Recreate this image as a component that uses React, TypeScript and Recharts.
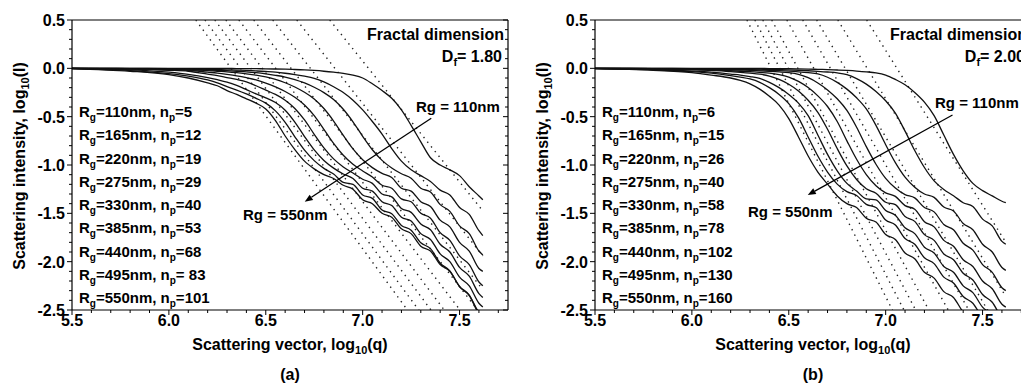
import React from "react";
import { ComposedChart, Line, XAxis, YAxis, ReferenceLine } from "recharts";

// log10(q) sample points shared by every curve
const qGrid = [5.5, 5.8, 6.0, 6.1, 6.2, 6.25, 6.3, 6.35, 6.4, 6.45, 6.5, 6.55, 6.6, 6.65, 6.7, 6.75, 6.8, 6.85, 6.9, 6.95, 7.0, 7.05, 7.1, 7.15, 7.2, 7.25, 7.3, 7.35, 7.4, 7.45, 7.5, 7.55, 7.6, 7.62];

// ---- (a) Df = 1.80 : log10(I) per Rg ----
const aRg110 = [0, 0, 0, 0, 0, 0, -0.001, -0.002, -0.003, -0.004, -0.005, -0.007, -0.009, -0.012, -0.016, -0.022, -0.03, -0.04, -0.052, -0.07, -0.1, -0.16, -0.23, -0.31, -0.43, -0.59, -0.76, -0.925, -1.0, -1.05, -1.11, -1.225, -1.32, -1.36];
const aRg165 = [0, -0.001, -0.003, -0.005, -0.01, -0.012, -0.015, -0.018, -0.022, -0.027, -0.033, -0.04, -0.051, -0.065, -0.081, -0.103, -0.14, -0.19, -0.25, -0.33, -0.43, -0.55, -0.68, -0.83, -0.96, -1.05, -1.11, -1.17, -1.26, -1.31, -1.44, -1.51, -1.68, -1.73];
const aRg220 = [0, -0.002, -0.005, -0.008, -0.016, -0.02, -0.024, -0.03, -0.036, -0.045, -0.057, -0.072, -0.09, -0.116, -0.151, -0.196, -0.251, -0.322, -0.423, -0.553, -0.703, -0.842, -0.952, -1.031, -1.091, -1.136, -1.24, -1.28, -1.41, -1.48, -1.63, -1.71, -1.89, -1.93];
const aRg275 = [0, -0.003, -0.01, -0.016, -0.024, -0.03, -0.036, -0.045, -0.057, -0.071, -0.089, -0.114, -0.149, -0.193, -0.248, -0.317, -0.416, -0.545, -0.694, -0.834, -0.946, -1.027, -1.087, -1.13, -1.24, -1.27, -1.38, -1.43, -1.57, -1.64, -1.8, -1.89, -2.07, -2.1];
const aRg330 = [0, -0.006, -0.014, -0.02, -0.04, -0.05, -0.063, -0.078, -0.097, -0.12, -0.152, -0.192, -0.24, -0.3, -0.38, -0.49, -0.631, -0.776, -0.899, -0.993, -1.062, -1.125, -1.21, -1.24, -1.35, -1.38, -1.5, -1.55, -1.7, -1.78, -1.94, -2.03, -2.21, -2.25];
const aRg385 = [0, -0.008, -0.02, -0.03, -0.06, -0.075, -0.095, -0.115, -0.14, -0.18, -0.225, -0.27, -0.33, -0.415, -0.534, -0.682, -0.823, -0.937, -1.02, -1.083, -1.147, -1.19, -1.3, -1.33, -1.45, -1.49, -1.61, -1.67, -1.82, -1.9, -2.06, -2.15, -2.33, -2.37];
const aRg440 = [0, -0.015, -0.04, -0.062, -0.096, -0.118, -0.143, -0.177, -0.22, -0.265, -0.305, -0.354, -0.433, -0.556, -0.706, -0.844, -0.953, -1.032, -1.093, -1.14, -1.24, -1.27, -1.38, -1.42, -1.54, -1.58, -1.71, -1.77, -1.92, -2.0, -2.16, -2.25, -2.43, -2.47];
const aRg495 = [-0.004, -0.023, -0.055, -0.08, -0.12, -0.15, -0.19, -0.225, -0.265, -0.31, -0.36, -0.44, -0.559, -0.708, -0.847, -0.955, -1.035, -1.094, -1.18, -1.2, -1.31, -1.345, -1.465, -1.505, -1.625, -1.675, -1.805, -1.865, -2.015, -2.095, -2.255, -2.345, -2.525, -2.56];
const aRg550 = [-0.005, -0.03, -0.065, -0.1, -0.15, -0.18, -0.23, -0.27, -0.315, -0.36, -0.42, -0.54, -0.7, -0.84, -0.96, -1.04, -1.1, -1.14, -1.21, -1.25, -1.36, -1.4, -1.5, -1.54, -1.66, -1.71, -1.84, -1.89, -2.03, -2.1, -2.26, -2.35, -2.54, -2.58];
// dotted asymptotes: log10(q) where they leave the top (0.5), and log10(I) at the q end
const aGuideStart = [6.139, 6.186, 6.237, 6.294, 6.361, 6.438, 6.536, 6.66, 6.83];
const aGuideEnd = [-3.57, -3.4, -3.22, -3.03, -2.81, -2.57, -2.29, -1.94, -1.475];
const aNp = ["5", "12", "19", "29", "40", "53", "68", " 83", "101"];

// ---- (b) Df = 2.00 ----
const bRg110 = [0, 0, 0, 0, 0, 0, 0, -0.001, -0.002, -0.003, -0.004, -0.006, -0.008, -0.01, -0.013, -0.017, -0.022, -0.028, -0.036, -0.047, -0.07, -0.115, -0.17, -0.25, -0.35, -0.49, -0.69, -0.89, -1.06, -1.19, -1.265, -1.32, -1.375, -1.39];
const bRg165 = [0, -0.001, -0.002, -0.004, -0.006, -0.007, -0.008, -0.009, -0.011, -0.013, -0.016, -0.02, -0.025, -0.031, -0.038, -0.047, -0.065, -0.106, -0.163, -0.239, -0.335, -0.463, -0.65, -0.85, -1.026, -1.164, -1.254, -1.318, -1.39, -1.43, -1.56, -1.63, -1.79, -1.82];
const bRg220 = [0, -0.002, -0.005, -0.008, -0.01, -0.012, -0.014, -0.017, -0.02, -0.024, -0.029, -0.036, -0.045, -0.058, -0.092, -0.145, -0.215, -0.305, -0.42, -0.59, -0.79, -0.975, -1.125, -1.23, -1.3, -1.335, -1.435, -1.475, -1.605, -1.67, -1.82, -1.9, -2.06, -2.09];
const bRg275 = [0, -0.003, -0.007, -0.01, -0.015, -0.018, -0.021, -0.026, -0.031, -0.037, -0.045, -0.062, -0.097, -0.151, -0.223, -0.315, -0.436, -0.61, -0.81, -0.992, -1.138, -1.238, -1.306, -1.34, -1.44, -1.485, -1.615, -1.67, -1.81, -1.88, -2.03, -2.11, -2.27, -2.3];
const bRg330 = [0, -0.004, -0.01, -0.015, -0.025, -0.03, -0.035, -0.042, -0.05, -0.065, -0.09, -0.135, -0.199, -0.285, -0.395, -0.55, -0.75, -0.941, -1.099, -1.214, -1.288, -1.325, -1.42, -1.457, -1.587, -1.64, -1.78, -1.84, -1.98, -2.05, -2.2, -2.28, -2.44, -2.47];
const bRg385 = [0, -0.006, -0.015, -0.022, -0.035, -0.042, -0.05, -0.06, -0.08, -0.115, -0.165, -0.235, -0.33, -0.455, -0.63, -0.83, -1.01, -1.15, -1.246, -1.292, -1.385, -1.41, -1.533, -1.583, -1.72, -1.78, -1.92, -1.98, -2.12, -2.19, -2.34, -2.42, -2.58, -2.61];
const bRg440 = [-0.002, -0.012, -0.028, -0.04, -0.06, -0.07, -0.085, -0.105, -0.145, -0.2, -0.27, -0.36, -0.49, -0.69, -0.89, -1.06, -1.19, -1.27, -1.35, -1.36, -1.47, -1.52, -1.65, -1.71, -1.85, -1.91, -2.05, -2.11, -2.25, -2.32, -2.47, -2.55, -2.71, -2.74];
const bRg495 = [-0.003, -0.016, -0.035, -0.05, -0.075, -0.09, -0.11, -0.145, -0.2, -0.27, -0.365, -0.51, -0.71, -0.907, -1.073, -1.198, -1.276, -1.315, -1.407, -1.439, -1.569, -1.62, -1.76, -1.82, -1.96, -2.02, -2.16, -2.22, -2.36, -2.43, -2.58, -2.66, -2.82, -2.85];
const bRg550 = [-0.004, -0.02, -0.045, -0.07, -0.1, -0.125, -0.16, -0.215, -0.29, -0.38, -0.52, -0.71, -0.907, -1.073, -1.198, -1.32, -1.4, -1.44, -1.55, -1.59, -1.72, -1.77, -1.91, -1.97, -2.11, -2.17, -2.31, -2.37, -2.52, -2.59, -2.74, -2.81, -2.96, -2.98];
const bGuideStart = [6.284, 6.325, 6.366, 6.412, 6.49, 6.572, 6.644, 6.753, 6.902];
const bGuideEnd = [-4.84, -4.55, -4.27, -3.97, -3.57, -3.17, -2.82, -2.36, -1.8];
const bNp = ["6", "15", "26", "40", "58", "78", "102", "130", "160"];

const rgList = ["110", "165", "220", "275", "330", "385", "440", "495", "550"];
const guideEndQ = 7.62;
const xTicks = [5.5, 5.6, 5.7, 5.8, 5.9, 6.0, 6.1, 6.2, 6.3, 6.4, 6.5, 6.6, 6.7, 6.8, 6.9, 7.0, 7.1, 7.2, 7.3, 7.4, 7.5, 7.6, 7.7];
const yTicks = [0.5, 0.4, 0.3, 0.2, 0.1, 0, -0.1, -0.2, -0.3, -0.4, -0.5, -0.6, -0.7, -0.8, -0.9, -1.0, -1.1, -1.2, -1.3, -1.4, -1.5, -1.6, -1.7, -1.8, -1.9, -2.0, -2.1, -2.2, -2.3, -2.4, -2.5];

const FONT = "'Liberation Sans', Arial, Helvetica, sans-serif";
const W = 520;
const H = 387;

const isMajor = (v: number) => Math.abs(v * 2 - Math.round(v * 2)) < 1e-6;

function BottomTick({ x, y, payload }: any) {
  const major = isMajor(payload.value);
  return (
    <g>
      <line x1={x} y1={y} x2={x} y2={y + (major ? 5 : 3)} stroke="#000" strokeWidth={1} />
      {major && (
        <text x={x} y={y + 15.5} textAnchor="middle" fontFamily={FONT} fontWeight={700} fontSize={16} fill="#000">
          {payload.value.toFixed(1)}
        </text>
      )}
    </g>
  );
}

function LeftTick({ x, y, payload }: any) {
  const major = isMajor(payload.value);
  return (
    <g>
      <line x1={x} y1={y} x2={x - (major ? 5 : 3)} y2={y} stroke="#000" strokeWidth={1} />
      {major && (
        <text x={x - 7} y={y + 6} textAnchor="end" fontFamily={FONT} fontWeight={700} fontSize={16} fill="#000">
          {payload.value.toFixed(1)}
        </text>
      )}
    </g>
  );
}

function RightTick({ x, y, payload }: any) {
  const major = isMajor(payload.value);
  return <line x1={x} y1={y} x2={x - (major ? 5 : 3)} y2={y} stroke="#000" strokeWidth={1} />;
}

function Arrow(p: any) {
  const { x1, y1, x2, y2 } = p;
  const a = Math.atan2(y2 - y1, x2 - x1);
  const L = 8;
  const hw = 3.2;
  const bx = x2 - L * Math.cos(a);
  const by = y2 - L * Math.sin(a);
  const nx = -Math.sin(a) * hw;
  const ny = Math.cos(a) * hw;
  return (
    <g>
      <line x1={x1} y1={y1} x2={bx} y2={by} stroke="#000" strokeWidth={1.3} />
      <polygon points={`${x2},${y2} ${bx + nx},${by + ny} ${bx - nx},${by - ny}`} fill="#000" />
    </g>
  );
}

interface PanelProps {
  series: number[][];
  guideStart: number[];
  guideEnd: number[];
  np: string[];
  df: string;
  tag: string;
  arrow: { x: number; y: number }[];
  hiLabel: { x: number; y: number };
  loLabel: { x: number; y: number };
}

function Panel({ series, guideStart, guideEnd, np, df, tag, arrow, hiLabel, loLabel }: PanelProps) {
  const rows = qGrid.map((q, i) => {
    const r: Record<string, number> = { q };
    series.forEach((s, k) => (r["s" + k] = s[i]));
    return r;
  });
  const txt = { fontFamily: FONT, fontWeight: 700, fill: "#000" } as const;

  return (
    <div style={{ position: "relative", width: W, height: H }}>
      <ComposedChart width={W} height={H} data={rows} margin={{ top: 20, right: 0, bottom: 0, left: 0 }}>
        <XAxis
          dataKey="q"
          type="number"
          domain={[5.5, 7.75]}
          allowDataOverflow
          ticks={xTicks}
          interval={0}
          height={77}
          tickSize={0}
          tickMargin={0}
          tickLine={false}
          tick={BottomTick}
          axisLine={{ stroke: "#000", strokeWidth: 1.2 }}
        />
        <YAxis
          yAxisId="l"
          type="number"
          domain={[-2.5, 0.5]}
          allowDataOverflow
          ticks={yTicks}
          interval={0}
          width={72}
          tickSize={0}
          tickMargin={0}
          tickLine={false}
          tick={LeftTick}
          axisLine={{ stroke: "#000", strokeWidth: 1.2 }}
        />
        <YAxis
          yAxisId="r"
          orientation="right"
          type="number"
          domain={[-2.5, 0.5]}
          allowDataOverflow
          ticks={yTicks}
          interval={0}
          width={12}
          tickSize={0}
          tickMargin={0}
          tickLine={false}
          tick={RightTick}
          axisLine={{ stroke: "#000", strokeWidth: 1.2 }}
        />
        <ReferenceLine yAxisId="l" y={0.5} stroke="#000" strokeWidth={1.2} />
        {guideStart.map((g, k) => (
          <Line
            key={"g" + k}
            yAxisId="l"
            data={[
              { q: g, v: 0.5 },
              { q: guideEndQ, v: guideEnd[k] },
            ]}
            dataKey="v"
            type="linear"
            stroke="#222"
            strokeWidth={1.4}
            strokeDasharray="1.4 4.6"
            dot={false}
            activeDot={false}
            isAnimationActive={false}
          />
        ))}
        {series.map((_, k) => (
          <Line
            key={"s" + k}
            yAxisId="l"
            dataKey={"s" + k}
            type="monotone"
            stroke="#111"
            strokeWidth={1.3}
            dot={false}
            activeDot={false}
            isAnimationActive={false}
          />
        ))}
        <ReferenceLine yAxisId="l" segment={arrow} shape={Arrow} ifOverflow="visible" />
      </ComposedChart>
      <svg width={W} height={H} style={{ position: "absolute", left: 0, top: 0, pointerEvents: "none" }}>
        <text transform="translate(25,166) rotate(-90)" textAnchor="middle" fontSize={16} {...txt}>
          Scattering intensity, log<tspan fontSize={11} dy={4}>10</tspan>
          <tspan dy={-4}>(I)</tspan>
        </text>
        <text x={290} y={350} textAnchor="middle" fontSize={16} {...txt}>
          Scattering vector, log<tspan fontSize={11} dy={4}>10</tspan>
          <tspan dy={-4}>(q)</tspan>
        </text>
        <text x={290} y={380} textAnchor="middle" fontSize={16} {...txt}>
          {tag}
        </text>
        {rgList.map((rg, i) => (
          <text key={rg} x={79} y={117 + i * 23.25} fontSize={15} {...txt}>
            R<tspan fontSize={10} dy={4}>g</tspan>
            <tspan dy={-4}>={rg}nm, n</tspan>
            <tspan fontSize={10} dy={4}>p</tspan>
            <tspan dy={-4} style={{ whiteSpace: "pre" }}>={np[i]}</tspan>
          </text>
        ))}
        <text x={504} y={40} textAnchor="end" fontSize={16} {...txt}>
          Fractal dimension
        </text>
        <text x={502} y={62} textAnchor="end" fontSize={16} {...txt}>
          D<tspan fontSize={11} dy={4}>f</tspan>
          <tspan dy={-4}>= {df}</tspan>
        </text>
        <text x={hiLabel.x} y={hiLabel.y} fontSize={15} {...txt}>
          Rg = 110nm
        </text>
        <text x={loLabel.x} y={loLabel.y} fontSize={15} {...txt}>
          Rg = 550nm
        </text>
      </svg>
    </div>
  );
}

export default function App() {
  return (
    <div style={{ position: "absolute", left: 0, top: 0, width: 1021, height: 387, overflow: "hidden", background: "#fff" }}>
      <div style={{ position: "absolute", left: 0, top: 0 }}>
        <Panel
          series={[aRg110, aRg165, aRg220, aRg275, aRg330, aRg385, aRg440, aRg495, aRg550]}
          guideStart={aGuideStart}
          guideEnd={aGuideEnd}
          np={aNp}
          df="1.80"
          tag="(a)"
          arrow={[
            { x: 7.354, y: -0.517 },
            { x: 6.701, y: -1.38 },
          ]}
          hiLabel={{ x: 416, y: 112 }}
          loLabel={{ x: 243, y: 220 }}
        />
      </div>
      <div style={{ position: "absolute", left: 523, top: 0 }}>
        <Panel
          series={[bRg110, bRg165, bRg220, bRg275, bRg330, bRg385, bRg440, bRg495, bRg550]}
          guideStart={bGuideStart}
          guideEnd={bGuideEnd}
          np={bNp}
          df="2.00"
          tag="(b)"
          arrow={[
            { x: 7.345, y: -0.483 },
            { x: 6.598, y: -1.31 },
          ]}
          hiLabel={{ x: 412, y: 108 }}
          loLabel={{ x: 225, y: 217 }}
        />
      </div>
    </div>
  );
}
